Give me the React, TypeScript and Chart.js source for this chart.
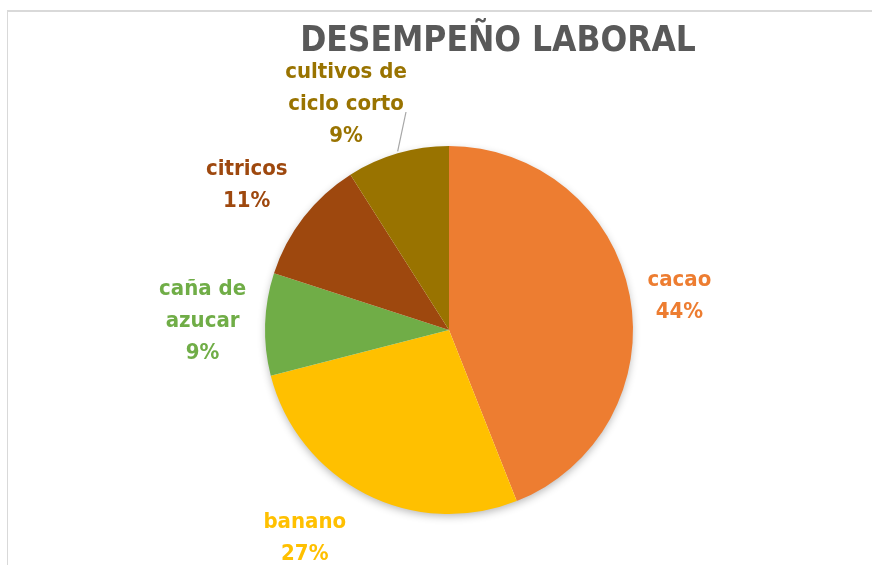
import React, { useEffect, useRef } from "react";
import { Chart, registerables } from "chart.js";

Chart.register(...registerables);

const TITLE = "DESEMPEÑO LABORAL";
const categories = ["cacao", "banano", "caña de azucar", "citricos", "cultivos de ciclo corto"];
const values = [44, 27, 9, 11, 9];
const labelLines = [["cacao"], ["banano"], ["caña de", "azucar"], ["citricos"], ["cultivos de", "ciclo corto"]];
const colors = ["#ED7D31", "#FFC000", "#70AD47", "#9E480E", "#997300"];

// label layout nudges (pixels)
const labelNudge = [[4, 3], [-13, 0], [-5, -2], [-5, 9], [0, 0]];

const FONT = "'DejaVu Sans Condensed', 'DejaVu Sans', sans-serif";

const labelPlugin = {
  id: "pieLabels",
  beforeDatasetsDraw(chart: any) {
    const ctx = chart.ctx;
    const arc = chart.getDatasetMeta(0).data[0];
    if (!arc) return;
    ctx.save();
    ctx.shadowColor = "rgba(0,0,0,0.30)";
    ctx.shadowBlur = 9;
    ctx.shadowOffsetY = 3;
    ctx.fillStyle = "#ffffff";
    ctx.beginPath();
    ctx.arc(arc.x, arc.y, arc.outerRadius - 1, 0, Math.PI * 2);
    ctx.fill();
    ctx.restore();
  },
  afterDatasetsDraw(chart: any) {
    const ctx = chart.ctx;
    // title
    ctx.save();
    ctx.fillStyle = "#595959";
    ctx.font = `bold 35px ${FONT}`;
    ctx.textAlign = "center";
    ctx.textBaseline = "middle";
    ctx.fillText(TITLE, 498, 42);
    ctx.restore();

    const meta = chart.getDatasetMeta(0);
    const total = values.reduce((a, b) => a + b, 0);
    const lh = 32;
    ctx.save();
    ctx.font = `bold 22px ${FONT}`;
    ctx.textBaseline = "middle";
    meta.data.forEach((arc: any, i: number) => {
      const mid = (arc.startAngle + arc.endAngle) / 2;
      const r = arc.outerRadius;
      const cx = arc.x, cy = arc.y;
      const pct = Math.round((values[i] / total) * 100) + "%";
      const lines = [...labelLines[i], pct];
      const widths = lines.map((l) => ctx.measureText(l).width);
      const bw = Math.max(...widths);
      const bh = lines.length * lh;
      const cosA = Math.cos(mid), sinA = Math.sin(mid);
      let bx: number, by: number;
      if (i === 4) {
        const ex = cx + r * cosA, ey = cy + r * sinA;
        bx = 346;
        by = 104;
        ctx.strokeStyle = "#A6A6A6";
        ctx.lineWidth = 1.2;
        ctx.beginPath();
        ctx.moveTo(ex, ey - 2);
        ctx.lineTo(406, 112);
        ctx.stroke();
      } else {
        const d = r + 14;
        const ax = cx + d * cosA, ay = cy + d * sinA;
        const hx = Math.abs(cosA) < 0.25 ? 0 : cosA > 0 ? 1 : -1;
        const hy = Math.abs(sinA) < 0.25 ? 0 : sinA > 0 ? 1 : -1;
        bx = ax + (hx * bw) / 2;
        by = ay + (hy * bh) / 2;
      }
      bx += labelNudge[i][0];
      by += labelNudge[i][1];
      ctx.fillStyle = colors[i];
      ctx.textAlign = "center";
      lines.forEach((l, k) => {
        ctx.fillText(l, bx, by - bh / 2 + lh / 2 + k * lh);
      });
    });
    ctx.restore();
  },
};

export default function App() {
  const ref = useRef<HTMLCanvasElement | null>(null);
  useEffect(() => {
    if (!ref.current) return;
    const chart = new Chart(ref.current, {
      type: "pie",
      data: {
        labels: categories,
        datasets: [
          {
            data: values,
            backgroundColor: colors,
            borderWidth: 0,
          },
        ],
      },
      options: {
        animation: false,
        responsive: false,
        layout: { padding: { top: 146, bottom: 51, left: 265, right: 239 } },
        plugins: {
          legend: { display: false },
          title: { display: false },
          tooltip: { enabled: false },
        },
      },
      plugins: [labelPlugin],
    });
    return () => chart.destroy();
  }, []);
  return (
    <div style={{ position: "fixed", left: 0, top: 0, width: 872, height: 565, background: "#fff", overflow: "hidden" }}>
      <div style={{ position: "absolute", left: 7, top: 10, width: 900, height: 600, borderLeft: "1px solid #D9D9D9", borderTop: "2px solid #D9D9D9" }} />
      <canvas ref={ref} width={872} height={565} style={{ position: "absolute", left: 0, top: 0 }} />
    </div>
  );
}
